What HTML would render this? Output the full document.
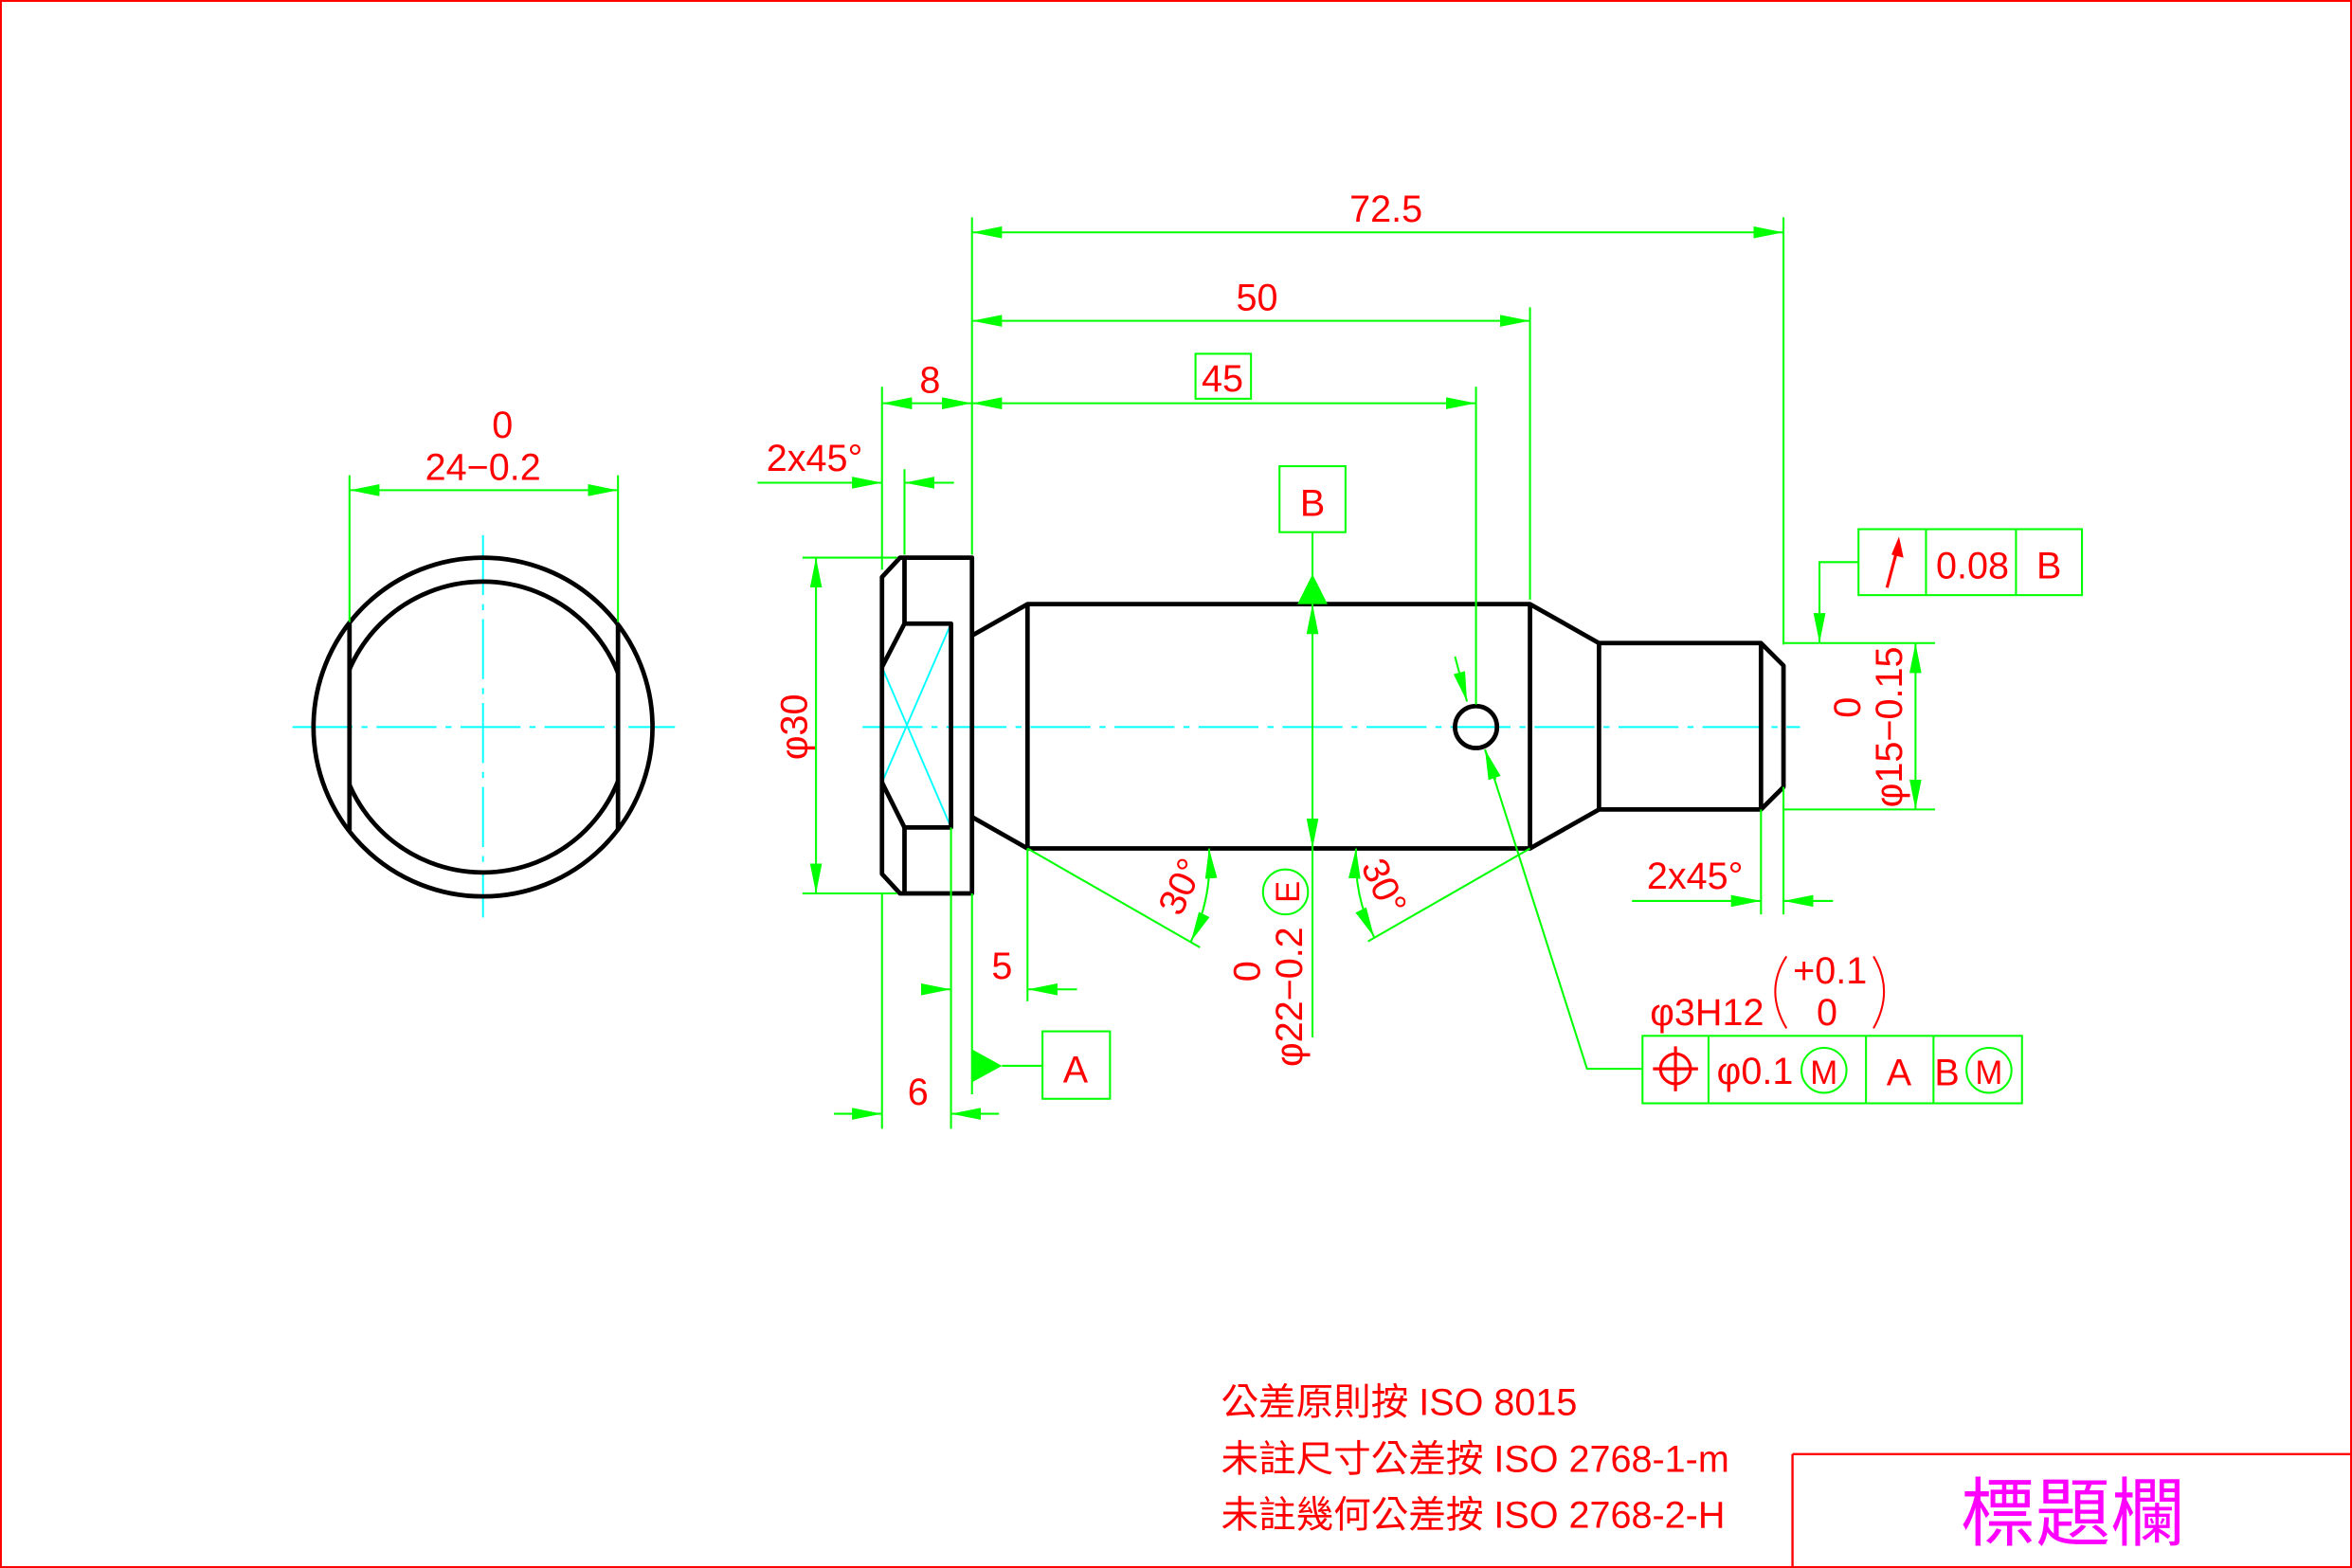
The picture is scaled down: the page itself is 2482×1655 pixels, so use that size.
<!DOCTYPE html>
<html><head><meta charset="utf-8"><style>
html,body{margin:0;padding:0;background:#fff}
svg{display:block}
text{font-family:"Liberation Sans","Noto Sans CJK TC",sans-serif;fill:#f00}
</style></head><body>
<svg width="2482" height="1655" viewBox="0 0 1568 1046" preserveAspectRatio="none" xmlns="http://www.w3.org/2000/svg">
<defs>
<marker id="a" viewBox="0 0 20 8" refX="20" refY="4" markerWidth="20" markerHeight="8" markerUnits="userSpaceOnUse" orient="auto-start-reverse"><path d="M0,0L20,4L0,8z" fill="#0f0"/></marker>
<clipPath id="flat"><rect x="233" y="300" width="179" height="400"/></clipPath>
</defs>
<rect x="0.5" y="0.5" width="1567" height="1045" fill="none" stroke="#f00" stroke-width="1.5"/>

<g stroke="#0ff" stroke-width="1.2" fill="none" stroke-dasharray="40 6 4 6">
<line x1="195" y1="485" x2="450" y2="485"/>
<line x1="322" y1="357" x2="322" y2="612"/>
<line x1="575" y1="485" x2="1200" y2="485"/>
</g>
<g stroke="#0ff" stroke-width="1.2">
<line x1="588" y1="445" x2="634" y2="552"/>
<line x1="588" y1="522" x2="634" y2="416"/>
</g>

<g stroke="#000" stroke-width="3" fill="none" stroke-linejoin="round">
<circle cx="322" cy="485" r="113"/>
<circle cx="322" cy="485" r="97" clip-path="url(#flat)"/>
<line x1="233" y1="416" x2="233" y2="554"/>
<line x1="412" y1="416" x2="412" y2="554"/>
<path d="M600,372L648,372L648,596L600,596L588,583L588,385Z"/>
<path d="M603,372L603,416L634,416L634,552L603,552L603,596"/>
<path d="M603,416L588,445M603,552L588,522"/>
<path d="M648,424L685,403L1020,403L1066,429L1174,429L1189,444L1189,525L1174,540L1066,540L1020,566L685,566L648,545"/>
<line x1="685" y1="403" x2="685" y2="566"/>
<line x1="1020" y1="403" x2="1020" y2="566"/>
<line x1="1066" y1="429" x2="1066" y2="540"/>
<line x1="1174" y1="429" x2="1174" y2="540"/>
<circle cx="984" cy="485" r="14"/>
</g>

<g stroke="#0f0" stroke-width="1.3" fill="none">
<line x1="233" y1="317" x2="233" y2="415"/><line x1="412" y1="317" x2="412" y2="415"/>
<line x1="233" y1="327" x2="412" y2="327" marker-start="url(#a)" marker-end="url(#a)"/>
<line x1="648" y1="145" x2="648" y2="370"/>
<line x1="1189" y1="145" x2="1189" y2="430"/>
<line x1="1020" y1="205" x2="1020" y2="400"/>
<line x1="984" y1="258" x2="984" y2="470"/>
<line x1="588" y1="258" x2="588" y2="380"/>
<line x1="603" y1="313" x2="603" y2="370"/>
<line x1="648" y1="155" x2="1189" y2="155" marker-start="url(#a)" marker-end="url(#a)"/>
<line x1="648" y1="214" x2="1020" y2="214" marker-start="url(#a)" marker-end="url(#a)"/>
<line x1="648" y1="269" x2="984" y2="269" marker-start="url(#a)" marker-end="url(#a)"/>
<line x1="588" y1="269" x2="648" y2="269" marker-start="url(#a)" marker-end="url(#a)"/>
<line x1="505" y1="322" x2="588" y2="322" marker-end="url(#a)"/>
<line x1="636" y1="322" x2="603" y2="322" marker-end="url(#a)"/>
<rect x="797" y="236" width="37" height="30"/>
<line x1="535" y1="372" x2="598" y2="372"/><line x1="535" y1="596" x2="598" y2="596"/>
<line x1="544" y1="372" x2="544" y2="596" marker-start="url(#a)" marker-end="url(#a)"/>
<rect x="853" y="311" width="44" height="44"/>
<line x1="875" y1="355" x2="875" y2="385"/>
<line x1="875" y1="403" x2="875" y2="566" marker-start="url(#a)" marker-end="url(#a)"/>
<line x1="875" y1="566" x2="875" y2="692"/>
<circle cx="857" cy="595" r="15"/>
<line x1="685" y1="566" x2="800" y2="632"/>
<path d="M806,566 A121,121 0 0 1 794,628" marker-start="url(#a)" marker-end="url(#a)"/>
<line x1="1020" y1="566" x2="912" y2="628"/>
<path d="M904,566 A121,121 0 0 0 916,625" marker-start="url(#a)" marker-end="url(#a)"/>
<line x1="685" y1="566" x2="685" y2="668"/>
<line x1="634" y1="552" x2="634" y2="753"/>
<line x1="614" y1="660" x2="634" y2="660" marker-end="url(#a)"/>
<line x1="718" y1="660" x2="685" y2="660" marker-end="url(#a)"/>
<line x1="588" y1="596" x2="588" y2="753"/>
<line x1="556" y1="743" x2="588" y2="743" marker-end="url(#a)"/>
<line x1="666" y1="743" x2="634" y2="743" marker-end="url(#a)"/>
<line x1="648" y1="596" x2="648" y2="730"/>
<line x1="668" y1="711" x2="695" y2="711"/>
<rect x="695" y="688" width="45" height="45"/>
<line x1="1189" y1="429" x2="1290" y2="429"/><line x1="1189" y1="540" x2="1290" y2="540"/>
<line x1="1277" y1="429" x2="1277" y2="540" marker-start="url(#a)" marker-end="url(#a)"/>
<rect x="1239" y="353" width="149" height="44"/>
<line x1="1284" y1="353" x2="1284" y2="397"/><line x1="1344" y1="353" x2="1344" y2="397"/>
<polyline points="1239,375 1213,375 1213,429" marker-end="url(#a)"/>
<line x1="1174" y1="540" x2="1174" y2="610"/><line x1="1189" y1="525" x2="1189" y2="610"/>
<line x1="1088" y1="601" x2="1174" y2="601" marker-end="url(#a)"/>
<line x1="1222" y1="601" x2="1189" y2="601" marker-end="url(#a)"/>
<line x1="970" y1="438" x2="978" y2="468" marker-end="url(#a)"/>
<line x1="997" y1="520" x2="990" y2="500" marker-end="url(#a)"/>
<polyline points="990,500 1058,713 1095,713" marker-start="url(#a)"/>
<rect x="1095" y="691" width="253" height="45"/>
<line x1="1139" y1="691" x2="1139" y2="736"/><line x1="1244" y1="691" x2="1244" y2="736"/><line x1="1289" y1="691" x2="1289" y2="736"/>
<circle cx="1216" cy="714" r="15"/><circle cx="1326" cy="714" r="15"/>
</g>
<g fill="#0f0">
<path d="M865,403L885,403L875,383Z"/>
<path d="M648,700L648,722L668,711Z"/>
</g>
<g stroke="#f00" stroke-width="2" fill="none">
<circle cx="1117" cy="713" r="10"/>
<line x1="1102" y1="713" x2="1132" y2="713"/><line x1="1117" y1="698" x2="1117" y2="728"/>
<line x1="1258" y1="392" x2="1266" y2="362"/>
<path d="M1191,638 Q1176,661 1191,686" stroke-width="1.3"/>
<path d="M1249,638 Q1263,661 1249,686" stroke-width="1.3"/>
</g>
<path d="M1261,370L1266,358L1269,372Z" fill="#f00"/>

<g font-size="25">
<text x="335" y="292" text-anchor="middle">0</text>
<text x="322" y="320" text-anchor="middle">24−0.2</text>
<text x="924" y="148" text-anchor="middle">72.5</text>
<text x="838" y="207" text-anchor="middle">50</text>
<text x="815" y="261" text-anchor="middle">45</text>
<text x="620" y="262" text-anchor="middle">8</text>
<text x="543" y="314" text-anchor="middle">2x45°</text>
<text x="875" y="344" text-anchor="middle">B</text>
<text transform="translate(538,485) rotate(-90)" text-anchor="middle">φ30</text>
<text transform="translate(868,665) rotate(-90)" text-anchor="middle">φ22−0.2</text>
<text transform="translate(840,648) rotate(-90)" text-anchor="middle">0</text>
<text transform="translate(866,595) rotate(-90)" text-anchor="middle" font-size="22">E</text>
<text transform="translate(795,595) rotate(-65)" text-anchor="middle">30°</text>
<text transform="translate(915,595) rotate(65)" text-anchor="middle">30°</text>
<text x="668" y="653" text-anchor="middle">5</text>
<text x="612" y="737" text-anchor="middle">6</text>
<text x="717" y="722" text-anchor="middle">A</text>
<text transform="translate(1268,485) rotate(-90)" text-anchor="middle">φ15−0.15</text>
<text transform="translate(1240,472) rotate(-90)" text-anchor="middle">0</text>
<text x="1315" y="386" text-anchor="middle">0.08</text>
<text x="1366" y="386" text-anchor="middle">B</text>
<text x="1130" y="593" text-anchor="middle">2x45°</text>
<text x="1138" y="684" text-anchor="middle">φ3H12</text>
<text x="1220" y="656" text-anchor="middle">+0.1</text>
<text x="1218" y="684" text-anchor="middle">0</text>
<text x="1170" y="723" text-anchor="middle">φ0.1</text>
<text x="1216" y="723" text-anchor="middle" font-size="22">M</text>
<text x="1266" y="724" text-anchor="middle">A</text>
<text x="1298" y="724" text-anchor="middle">B</text>
<text x="1326" y="723" text-anchor="middle" font-size="22">M</text>
<text x="814" y="944">公差原則按 ISO 8015</text>
<text x="814" y="982">未註尺寸公差按 ISO 2768-1-m</text>
<text x="814" y="1019">未註幾何公差按 ISO 2768-2-H</text>
</g>
<g stroke="#f00" stroke-width="1.5"><line x1="1195" y1="970" x2="1568" y2="970"/><line x1="1195" y1="970" x2="1195" y2="1046"/></g>
<text x="1382" y="1027" text-anchor="middle" font-size="50" style="fill:#f0f">標題欄</text>
</svg>
</body></html>
